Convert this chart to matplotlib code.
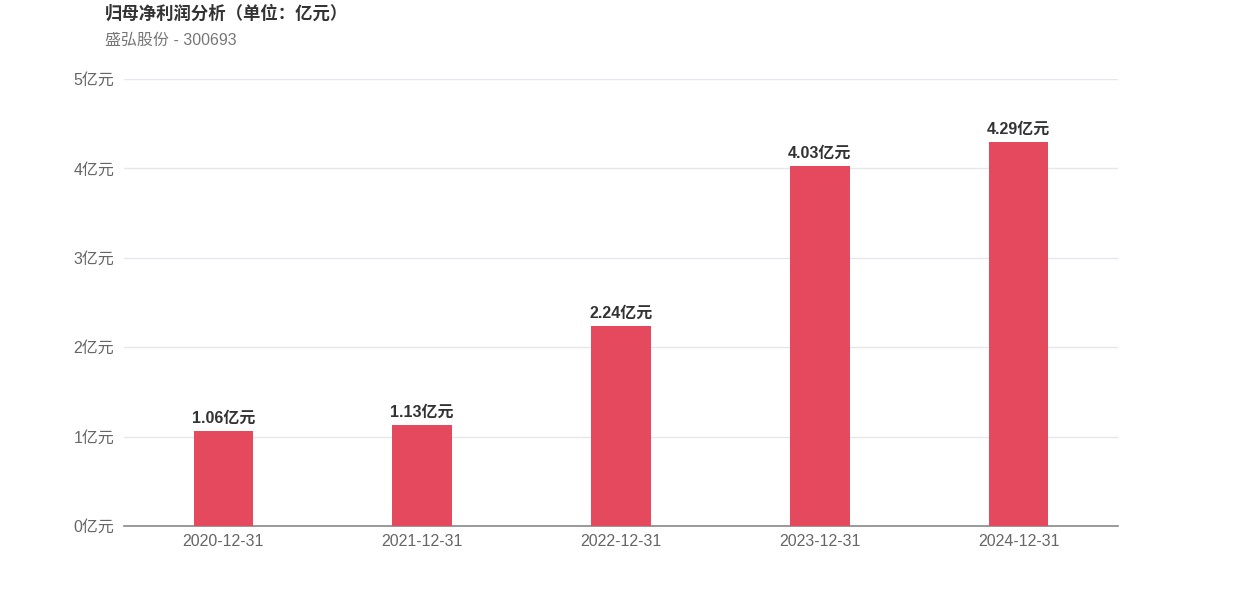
import matplotlib
matplotlib.use("Agg")
import matplotlib.pyplot as plt

plt.rcParams['font.family'] = ['Liberation Sans', 'Noto Sans CJK SC', 'DejaVu Sans']

categories = ["2020-12-31", "2021-12-31", "2022-12-31", "2023-12-31", "2024-12-31"]
values = [1.06, 1.13, 2.24, 4.03, 4.29]
yticks = [0, 1, 2, 3, 4, 5]

fig = plt.figure(figsize=(12.42, 5.96), dpi=100)
ax = fig.add_axes([124/1242, 70/596, 994/1242, 447/596])

x = range(len(categories))
ax.bar(x, values, width=0.3, color="#E5495E", zorder=3)
for xi, v in zip(x, values):
    ax.text(xi, v + 0.06, f"{v:.2f}亿元", ha="center", va="bottom",
            fontsize=11.5, fontweight="bold", color="#333333")

ax.set_xlim(-0.5, len(categories) - 0.5)
ax.set_ylim(0, 5)
ax.set_yticks(yticks)
ax.set_yticklabels([f"{t}亿元" for t in yticks])
ax.set_xticks(list(x))
ax.set_xticklabels(categories)
ax.tick_params(axis="both", length=0, labelsize=11.5, labelcolor="#666666")
ax.tick_params(axis="y", pad=7)
ax.tick_params(axis="x", pad=6)
ax.grid(axis="y", color="#E6E6EE", linewidth=1, zorder=0)
for s in ["top", "right", "left"]:
    ax.spines[s].set_visible(False)
ax.spines["bottom"].set_color("#888888")
ax.spines["bottom"].set_linewidth(1.2)

fig.text(105/1242, 1 - 13/596, "归母净利润分析（单位：亿元）", ha="left", va="center",
         fontsize=12.5, fontweight="bold", color="#333333")
fig.text(105/1242, 1 - 40/596, "盛弘股份 - 300693", ha="left", va="center",
         fontsize=11.5, color="#777777")

fig.savefig("out.png", dpi=100)
